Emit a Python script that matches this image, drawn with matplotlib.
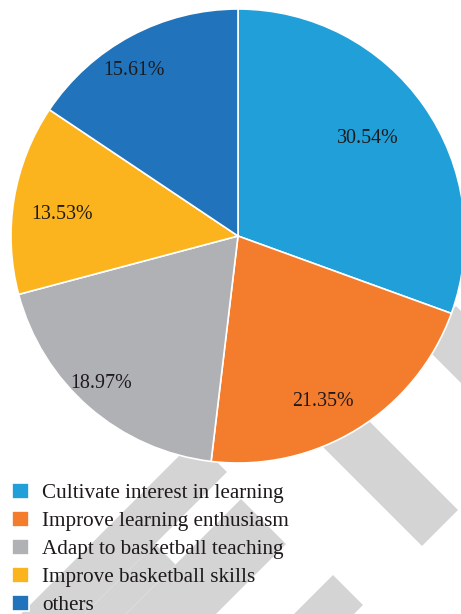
import numpy as np
import matplotlib.pyplot as plt
from matplotlib.patches import Polygon
from matplotlib.transforms import Affine2D

# Porcentajes de cada motivo
categorias = ['Cultivate interest in learning', 'Improve learning enthusiasm',
              'Adapt to basketball teaching', 'Improve basketball skills', 'others']
porcentajes = [30.54, 21.35, 18.97, 13.53, 15.61]
colores = ['#219fd8', '#f47c2d', '#b0b1b4', '#fbb41e', '#2174bb']

# Ajuste fino de la posicion de cada etiqueta (radio relativo, giro en grados)
radio_etiqueta = [0.715, 0.82, 0.885, 0.78, 0.86]
giro_etiqueta = [1.7, -4.6, -2.0, 2.5, 4.0]

W, H = 461, 614
plt.rcParams['font.family'] = ['Liberation Serif', 'DejaVu Serif']
fig = plt.figure(figsize=(W / 100, H / 100), dpi=100)

# Marca de agua gris (coordenadas en pixeles, y hacia abajo)
px = Affine2D().scale(1 / W, -1 / H).translate(0, 1) + fig.transFigure
def banda(s_min, s_max, d_min, d_max):
    # franja diagonal limitada por x+y en [s_min, s_max] y x-y en [d_min, d_max]
    pts = [((s + d) / 2, (s - d) / 2) for s, d in
           [(s_min, d_min), (s_max, d_min), (s_max, d_max), (s_min, d_max)]]
    return pts
franjas = [
    [(288, 412), (324, 376), (458, 510), (422, 546)],
    [(420, 342), (456, 306), (625, 475), (589, 511)],
    banda(908, 968, -500, -242),
    banda(635, 699, -700, -245),
    banda(740, 830, -700, -258),
    banda(699, 740, -700, -389),
]
for f in franjas:
    fig.add_artist(Polygon(f, closed=True, transform=px, facecolor='#d4d4d4',
                           edgecolor='none', zorder=-1))

# Grafico de pastel
cx, cy, r = 238, 236, 227
ax = fig.add_axes([(cx - r) / W, (H - cy - r) / H, 2 * r / W, 2 * r / H])
ax.patch.set_visible(False)
wedges, _ = ax.pie(porcentajes, colors=colores, startangle=90, counterclock=False,
                   radius=1, wedgeprops=dict(edgecolor='white', linewidth=1.2))
ax.set_xlim(-1, 1)
ax.set_ylim(-1, 1)
ax.axis('off')

for w, p, rr, g in zip(wedges, porcentajes, radio_etiqueta, giro_etiqueta):
    ang = np.deg2rad((w.theta1 + w.theta2) / 2 + g)
    ax.text(rr * np.cos(ang), rr * np.sin(ang), f'{p:.2f}%', ha='center', va='center',
            fontsize=14.4, color='#1e1a1b')

fig.legend(wedges, categorias, loc='upper left', bbox_to_anchor=(12 / W, 1 - 483 / H),
           frameon=False, fontsize=15.2, handlelength=0.8, handleheight=0.8,
           handletextpad=0.62, labelspacing=0.36, borderpad=0, borderaxespad=0,
           labelcolor='#1e1a1b')

plt.savefig('out.png', dpi=100)
